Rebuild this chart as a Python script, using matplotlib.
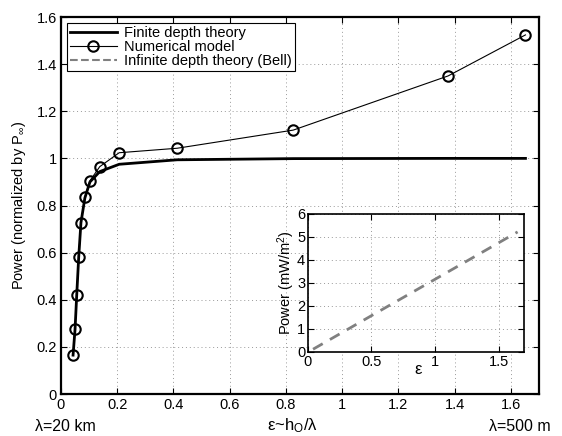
import numpy as np
import matplotlib
matplotlib.use("Agg")
import matplotlib.pyplot as plt
from matplotlib.lines import Line2D
from matplotlib.ticker import FuncFormatter

plt.rcParams['font.family'] = ['Liberation Sans', 'DejaVu Sans']
plt.rcParams['font.size'] = 10.5
plt.rcParams['mathtext.fontset'] = 'custom'
plt.rcParams['mathtext.rm'] = 'Liberation Sans'
plt.rcParams['mathtext.it'] = 'Liberation Sans'

# epsilon ~ h0/lambda for each run
eps = [0.043, 0.050, 0.056, 0.063, 0.071, 0.085, 0.103, 0.138, 0.207,
       0.413, 0.826, 1.377, 1.652]
finite_depth = [0.165, 0.274, 0.42, 0.58, 0.727, 0.832, 0.90, 0.944, 0.975,
                0.994, 0.999, 1.0, 1.0]
numerical = [0.165, 0.274, 0.42, 0.58, 0.727, 0.835, 0.905, 0.965, 1.024,
             1.043, 1.12, 1.35, 1.524]
# infinite depth (Bell) power in mW/m^2 for the inset
inf_eps = [0.04, 0.5, 1.0, 1.65]
inf_power = [0.12, 1.58, 3.16, 5.22]

fmt = FuncFormatter(lambda v, p: '%g' % round(v, 3))


def style_axes(ax, lw):
    for s in ax.spines.values():
        s.set_linewidth(lw)
    ax.tick_params(direction='in', top=True, right=True, length=4, width=0.8, pad=3)
    ax.grid(True, linestyle=(0, (1, 3)), color='0.6', linewidth=0.7)
    ax.xaxis.set_major_formatter(fmt)
    ax.yaxis.set_major_formatter(fmt)


fig = plt.figure(figsize=(5.62, 4.36), dpi=100)
ax = fig.add_axes([0.1085, 0.0963, 0.8505, 0.8647])
ax.plot(eps, finite_depth, color='black', linewidth=2)
ax.plot(eps, numerical, color='black', linewidth=0.8, marker='o', markersize=7.5,
        markerfacecolor='none', markeredgewidth=1.5)
ax.set_xlim(0, 1.7)
ax.set_ylim(0, 1.6)
ax.set_xticks(np.arange(0, 1.61, 0.2))
ax.set_yticks(np.arange(0, 1.61, 0.2))
style_axes(ax, 1.6)
ax.set_ylabel(r'Power (normalized by P$_{\infty}$)')
ax.yaxis.set_label_coords(-0.069, 0.5)
ax.set_xlabel(r'ε~h$_{\mathrm{O}}$/λ', fontsize=12)
ax.xaxis.set_label_coords(0.485, -0.058)
fig.text(0.062, 0.012, 'λ=20 km', fontsize=11.5)
fig.text(0.87, 0.012, 'λ=500 m', fontsize=11.5)

handles = [Line2D([], [], color='black', linewidth=2),
           Line2D([], [], color='black', linewidth=0.8, marker='o', markersize=7.5,
                  markerfacecolor='none', markeredgewidth=1.5),
           Line2D([], [], color='0.5', linewidth=1.5, linestyle='--')]
leg = ax.legend(handles, ['Finite depth theory', 'Numerical model',
                          'Infinite depth theory (Bell)'],
                loc='upper left', bbox_to_anchor=(0.013, 0.983), fancybox=False,
                framealpha=1, edgecolor='black', borderpad=0.2, labelspacing=0.0,
                handlelength=3.2, handletextpad=0.5, borderaxespad=0)
leg.get_frame().set_linewidth(0.8)

ins = fig.add_axes([0.548, 0.1927, 0.3843, 0.3165])
ins.plot(inf_eps, inf_power, color='0.5', linewidth=2, linestyle=(0, (4, 3)))
ins.set_xlim(0, 1.7)
ins.set_ylim(0, 6)
ins.set_xticks([0, 0.5, 1, 1.5])
ins.set_yticks(range(0, 7))
style_axes(ins, 1.2)
ins.tick_params(pad=2)
ins.set_ylabel(r'Power (mW/m$^2$)')
ins.yaxis.set_label_coords(-0.05, 0.5)
ins.set_xlabel('ε', fontsize=12)
ins.xaxis.set_label_coords(0.51, -0.07)

fig.savefig('out.png', dpi=100)
